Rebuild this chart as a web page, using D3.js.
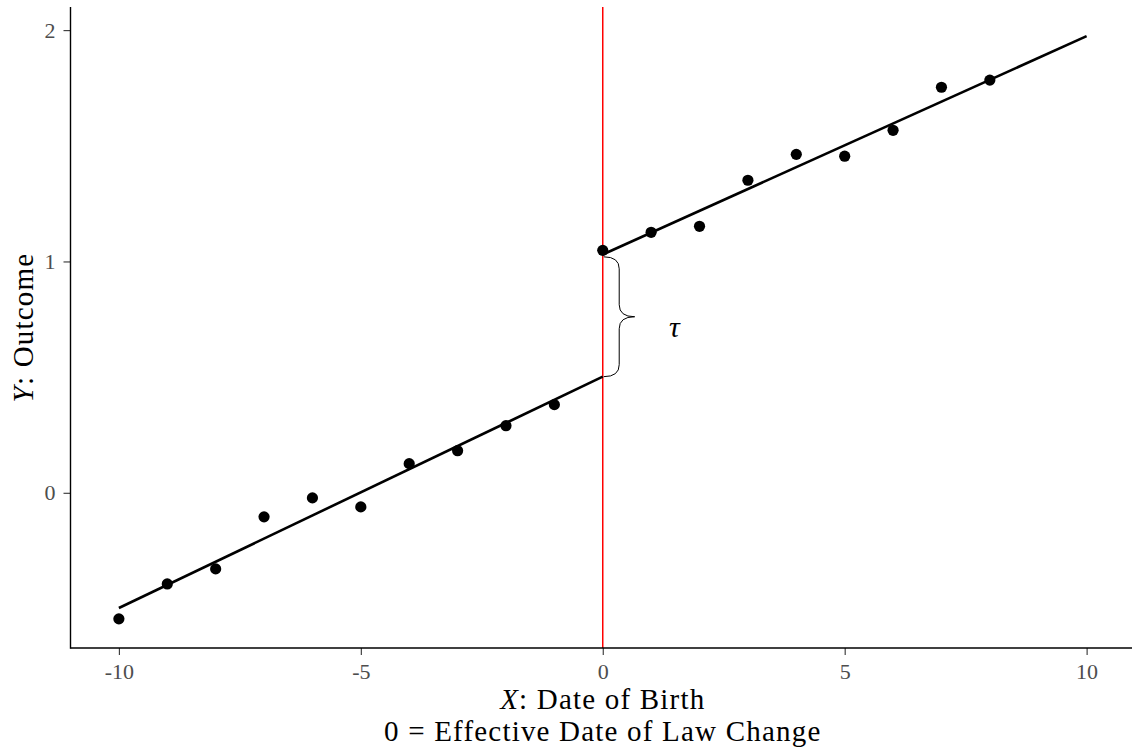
<!DOCTYPE html>
<html>
<head>
<meta charset="utf-8">
<script src="https://cdn.jsdelivr.net/npm/d3@7"></script>
<style>
  body { margin: 0; background: #fff; }
  svg { display: block; }
  .tick text { font-family: "Liberation Serif", serif; font-size: 22px; fill: #4d4d4d; }
  .tick line { stroke: #333; stroke-width: 1.1; }
  .domain { display: none; }
  .title { font-family: "Liberation Serif", serif; font-size: 29px; letter-spacing: 1.2px; fill: #000; }
</style>
</head>
<body>
<svg width="1132" height="749"></svg>
<script>
// observed points (date of birth vs outcome)
const xVals = [-10, -9, -8, -7, -6, -5, -4, -3, -2, -1, 0, 1, 2, 3, 4, 5, 6, 7, 8];
const yVals = [-0.545, -0.394, -0.329, -0.104, -0.022, -0.061, 0.126, 0.182, 0.290, 0.381,
               1.048, 1.126, 1.152, 1.351, 1.463, 1.455, 1.567, 1.753, 1.784];

// fitted lines either side of the cutoff
const leftFit = [[-10, -0.498], [0, 0.502]];
const rightFit = [[0, 1.030], [10, 1.974]];

const cutoff = 0;
const braceY = [0.502, 1.02];
const braceW = 0.66;
const tauPos = [1.48, 0.72];

const xTicks = [-10, -5, 0, 5, 10];
const yTicks = [0, 1, 2];

let margin = { "top": 7, "right": -3, "bottom": 101, "left": 70.5 };
let width = 1132;
let height = 749;

let svg = d3.select("svg");

let xScale = d3.scaleLinear()
  .domain([-11, 11])
  .range([margin.left, width - margin.right]);

// expand y range by 5% either side like ggplot does
let allY = yVals.concat(leftFit.map(d => d[1]), rightFit.map(d => d[1]));
let yMin = d3.min(allY), yMax = d3.max(allY);
let pad = (yMax - yMin) * 0.05;
let yScale = d3.scaleLinear()
  .domain([yMin - pad, yMax + pad])
  .range([height - margin.bottom, margin.top]);

let x0 = margin.left, y0 = height - margin.bottom;

// cutoff line
svg.append("line")
  .attr("x1", xScale(cutoff)).attr("x2", xScale(cutoff))
  .attr("y1", margin.top).attr("y2", y0)
  .attr("stroke", "#ff0000")
  .attr("stroke-width", 1.5);

// fitted lines
let line = d3.line().x(d => xScale(d[0])).y(d => yScale(d[1]));
[leftFit, rightFit].forEach(f => {
  svg.append("path")
    .attr("d", line(f))
    .attr("fill", "none")
    .attr("stroke", "#000")
    .attr("stroke-width", 2.6);
});

// points
svg.selectAll("circle.pt")
  .data(xVals)
  .enter().append("circle")
  .attr("class", "pt")
  .attr("cx", d => xScale(d))
  .attr("cy", (d, i) => yScale(yVals[i]))
  .attr("r", 5.6)
  .attr("fill", "#000");

// curly brace marking the jump
let bx = xScale(cutoff) + 1;
let bt = yScale(braceY[1]), bb = yScale(braceY[0]);
let bm = (bt + bb) / 2;
let tip = xScale(cutoff + braceW);
let mid = (bx + tip) / 2;
let r = 12;
let brace = d3.path();
brace.moveTo(bx, bt);
brace.quadraticCurveTo(mid, bt, mid, bt + r);
brace.lineTo(mid, bm - r);
brace.quadraticCurveTo(mid, bm, tip, bm);
brace.quadraticCurveTo(mid, bm, mid, bm + r);
brace.lineTo(mid, bb - r);
brace.quadraticCurveTo(mid, bb, bx, bb);
svg.append("path")
  .attr("d", brace.toString())
  .attr("fill", "none")
  .attr("stroke", "#000")
  .attr("stroke-width", 1);

svg.append("text")
  .attr("class", "title")
  .attr("x", xScale(tauPos[0]))
  .attr("y", yScale(tauPos[1]))
  .attr("text-anchor", "middle")
  .attr("dominant-baseline", "central")
  .style("font-style", "italic")
  .style("font-size", "30px")
  .style("letter-spacing", "0px")
  .text("τ");

// axes
let xAxis = svg.append("g")
  .attr("transform", `translate(0,${y0})`)
  .call(d3.axisBottom(xScale).tickValues(xTicks).tickSize(7).tickPadding(8)
    .tickFormat(d3.format("d")));
xAxis.selectAll(".tick text").text(d => String(d));

svg.append("g")
  .attr("transform", `translate(${x0},0)`)
  .call(d3.axisLeft(yScale).tickValues(yTicks).tickSize(7).tickPadding(8)
    .tickFormat(d3.format("d")));

svg.append("line")
  .attr("x1", x0).attr("x2", width)
  .attr("y1", y0).attr("y2", y0)
  .attr("stroke", "#000").attr("stroke-width", 1.4);
svg.append("line")
  .attr("x1", x0).attr("x2", x0)
  .attr("y1", margin.top).attr("y2", y0 + 0.7)
  .attr("stroke", "#000").attr("stroke-width", 1.4);

// axis titles
let xc = xScale(0);
let t1 = svg.append("text").attr("class", "title")
  .attr("x", xc).attr("y", 709).attr("text-anchor", "middle");
t1.append("tspan").style("font-style", "italic").text("X");
t1.append("tspan").text(": Date of Birth");

svg.append("text").attr("class", "title")
  .attr("x", xc).attr("y", 741).attr("text-anchor", "middle")
  .text("0 = Effective Date of Law Change");

let ym = (margin.top + y0) / 2;
let t2 = svg.append("text").attr("class", "title")
  .attr("transform", `translate(33,${ym}) rotate(-90)`)
  .attr("text-anchor", "middle");
t2.append("tspan").style("font-style", "italic").text("Y");
t2.append("tspan").text(": Outcome");
</script>
</body>
</html>
